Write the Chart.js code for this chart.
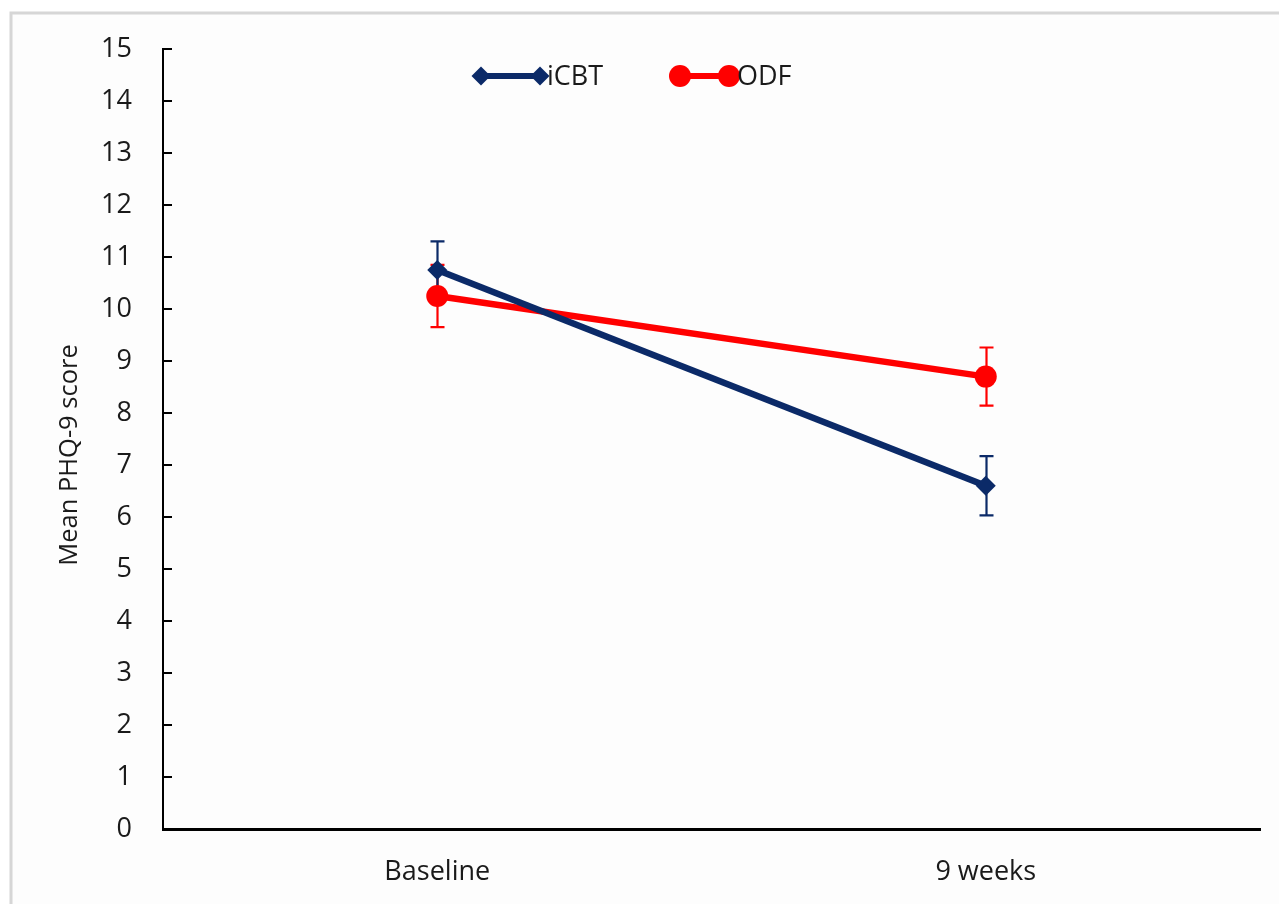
<!DOCTYPE html>
<html>
<head>
<meta charset="utf-8">
<script src="https://cdn.jsdelivr.net/npm/chart.js@4.4.0/dist/chart.umd.min.js"></script>
<style>
html,body{margin:0;padding:0;background:#fff;}
#wrap{width:1279px;height:904px;position:relative;}
</style>
</head>
<body>
<div id="wrap"><canvas id="c" width="1279" height="904"></canvas></div>
<script>
const categories = ['Baseline', '9 weeks'];
const icbtMean = [10.75, 6.6];
const icbtErr = [0.55, 0.57];
const odfMean = [10.25, 8.7];
const odfErr = [0.6, 0.56];
const yTickValues = [0,1,2,3,4,5,6,7,8,9,10,11,12,13,14,15];
const yTitle = 'Mean PHQ-9 score';
const seriesNames = ['iCBT', 'ODF'];

const NAVY = '#0b2a68';
const RED = '#ff0000';
const FONT = '"Open Sans", "DejaVu Sans", sans-serif';
const TEXT = '#1a1a1a';

const errors = [icbtErr, odfErr];

const framePlugin = {
  id: 'frame',
  beforeDraw(chart) {
    const ctx = chart.ctx;
    ctx.save();
    ctx.fillStyle = '#ffffff';
    ctx.fillRect(0, 0, chart.width, chart.height);
    ctx.fillStyle = '#fdfdfd';
    ctx.fillRect(12, 14, chart.width - 12, chart.height - 14);
    ctx.strokeStyle = '#d6d6d6';
    ctx.lineWidth = 3;
    ctx.beginPath();
    ctx.moveTo(11, chart.height);
    ctx.lineTo(11, 13);
    ctx.lineTo(chart.width, 13);
    ctx.stroke();
    ctx.restore();
  }
};

const innerTicksPlugin = {
  id: 'innerTicks',
  beforeDatasetsDraw(chart) {
    const y = chart.scales.y;
    const ctx = chart.ctx;
    ctx.save();
    ctx.strokeStyle = '#000';
    ctx.lineWidth = 2;
    y.ticks.forEach(t => {
      const py = Math.round(y.getPixelForValue(t.value));
      ctx.beginPath();
      ctx.moveTo(chart.chartArea.left, py);
      ctx.lineTo(chart.chartArea.left + 9, py);
      ctx.stroke();
    });
    ctx.restore();
  }
};

const errorBarPlugin = {
  id: 'errorBars',
  beforeDatasetsDraw(chart) {
    const ctx = chart.ctx;
    const ys = chart.scales.y;
    ctx.save();
    for (let di = chart.data.datasets.length - 1; di >= 0; di--) {
      const ds = chart.data.datasets[di];
      const meta = chart.getDatasetMeta(di);
      const errs = errors[di];
      ctx.strokeStyle = ds.borderColor;
      ctx.lineWidth = 2.2;
      meta.data.forEach((pt, i) => {
        const v = ds.data[i];
        const e = errs[i];
        const x = Math.round(pt.x) + 0.5;
        const yt = ys.getPixelForValue(v + e);
        const yb = ys.getPixelForValue(v - e);
        ctx.beginPath();
        ctx.moveTo(x, yt); ctx.lineTo(x, yb);
        ctx.moveTo(x - 7, yt); ctx.lineTo(x + 7, yt);
        ctx.moveTo(x - 7, yb); ctx.lineTo(x + 7, yb);
        ctx.stroke();
      });
    }
    ctx.restore();
  }
};

const titleLegendPlugin = {
  id: 'titleLegend',
  afterDraw(chart) {
    const ctx = chart.ctx;
    ctx.save();
    ctx.translate(70, 455);
    ctx.rotate(-Math.PI / 2);
    ctx.fillStyle = TEXT;
    ctx.font = '25.5px ' + FONT;
    ctx.textAlign = 'center';
    ctx.textBaseline = 'middle';
    ctx.fillText(yTitle, 0, 0);
    ctx.restore();

    const items = [
      {x1: 481, x2: 540, tx: 547},
      {x1: 680, x2: 729, tx: 737}
    ];
    const ly = 76;
    chart.data.datasets.forEach((ds, i) => {
      const it = items[i];
      ctx.save();
      ctx.strokeStyle = ds.borderColor;
      ctx.fillStyle = ds.borderColor;
      ctx.lineWidth = 6;
      ctx.beginPath();
      ctx.moveTo(it.x1, ly); ctx.lineTo(it.x2, ly);
      ctx.stroke();
      [it.x1, it.x2].forEach(px => {
        ctx.beginPath();
        if (ds.pointStyle === 'rectRot') {
          const r = 9.5;
          ctx.moveTo(px - r, ly); ctx.lineTo(px, ly - r); ctx.lineTo(px + r, ly); ctx.lineTo(px, ly + r);
          ctx.closePath();
        } else {
          ctx.arc(px, ly, 11, 0, Math.PI * 2);
        }
        ctx.fill();
      });
      ctx.fillStyle = TEXT;
      ctx.font = '27px ' + FONT;
      ctx.textAlign = 'left';
      ctx.textBaseline = 'middle';
      ctx.fillText(ds.label, it.tx, ly + 1);
      ctx.restore();
    });
  }
};

new Chart(document.getElementById('c'), {
  type: 'line',
  data: {
    labels: categories,
    datasets: [
      {
        label: seriesNames[0],
        data: icbtMean,
        borderColor: NAVY,
        backgroundColor: NAVY,
        borderWidth: 6.5,
        pointStyle: 'rectRot',
        pointRadius: 10,
        pointBorderWidth: 0,
        pointBackgroundColor: NAVY,
        tension: 0
      },
      {
        label: seriesNames[1],
        data: odfMean,
        borderColor: RED,
        backgroundColor: RED,
        borderWidth: 6.5,
        pointStyle: 'circle',
        pointRadius: 11,
        pointBorderWidth: 0,
        pointBackgroundColor: RED,
        tension: 0
      }
    ]
  },
  options: {
    responsive: false,
    animation: false,
    devicePixelRatio: 1,
    layout: { padding: { left: 0, top: 49, right: 19, bottom: 0 } },
    plugins: {
      legend: { display: false },
      tooltip: { enabled: false }
    },
    scales: {
      x: {
        offset: true,
        grid: { display: false, drawTicks: false },
        border: { display: true, color: '#000', width: 3 },
        ticks: { color: TEXT, font: { family: FONT, size: 27 }, padding: 27 },
        afterFit(scale) { scale.height = 75; }
      },
      y: {
        min: 0,
        max: 15,
        afterBuildTicks(scale) { scale.ticks = yTickValues.map(v => ({ value: v })); },
        grid: { display: false, drawTicks: false },
        border: { display: true, color: '#000', width: 2 },
        ticks: { color: TEXT, font: { family: FONT, size: 27 }, padding: 31, stepSize: 1 },
        afterFit(scale) { scale.width = 163; }
      }
    }
  },
  plugins: [framePlugin, innerTicksPlugin, errorBarPlugin, titleLegendPlugin]
});
</script>
</body>
</html>
